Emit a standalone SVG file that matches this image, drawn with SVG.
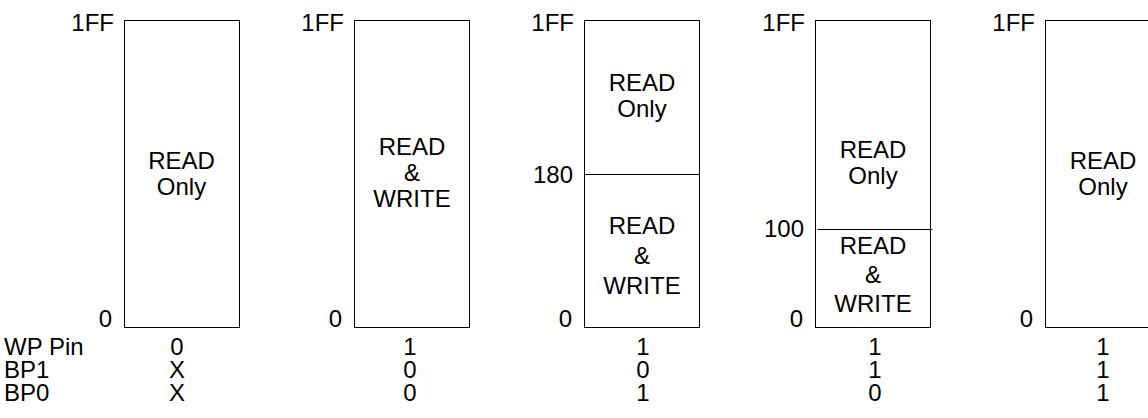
<svg xmlns="http://www.w3.org/2000/svg" width="1148" height="418" viewBox="0 0 1148 418">
<style>
text{font-family:"Liberation Sans",Arial,sans-serif;font-size:24px;fill:#000}
.box{fill:#fff;stroke:#000;stroke-width:1}
.div{stroke:#000;stroke-width:1}
.m{text-anchor:middle}
.e{text-anchor:end}
</style>
<rect width="1148" height="418" fill="#fff"/>
<g id="row-labels">
<text x="4" y="355">WP Pin</text>
<text x="4" y="378">BP1</text>
<text x="4" y="401">BP0</text>
</g>
<g id="map1">
<rect class="box" x="124.5" y="20.5" width="115" height="307"/>
<text class="e" x="114" y="31">1FF</text>
<text class="e" x="112" y="327">0</text>
<text class="m" x="181.5" y="169">READ</text>
<text class="m" x="181.5" y="195">Only</text>
<text class="m" x="177" y="355">0</text>
<text class="m" x="177" y="378">X</text>
<text class="m" x="177" y="401">X</text>
</g>
<g id="map2">
<rect class="box" x="354.5" y="20.5" width="115" height="307"/>
<text class="e" x="344" y="31">1FF</text>
<text class="e" x="342" y="327">0</text>
<text class="m" x="412" y="155">READ</text>
<text class="m" x="412" y="181">&amp;</text>
<text class="m" x="412" y="207">WRITE</text>
<text class="m" x="410" y="355">1</text>
<text class="m" x="410" y="378">0</text>
<text class="m" x="410" y="401">0</text>
</g>
<g id="map3">
<rect class="box" x="584.5" y="20.5" width="115" height="307"/>
<line class="div" x1="584.5" y1="174.5" x2="699.5" y2="174.5"/>
<text class="e" x="574" y="31">1FF</text>
<text class="e" x="573" y="183">180</text>
<text class="e" x="572" y="327">0</text>
<text class="m" x="642" y="91">READ</text>
<text class="m" x="642" y="117">Only</text>
<text class="m" x="642" y="234">READ</text>
<text class="m" x="642" y="264">&amp;</text>
<text class="m" x="642" y="294">WRITE</text>
<text class="m" x="643" y="355">1</text>
<text class="m" x="643" y="378">0</text>
<text class="m" x="643" y="401">1</text>
</g>
<g id="map4">
<rect class="box" x="815.5" y="20.5" width="115" height="307"/>
<line class="div" x1="817.5" y1="229.5" x2="932.5" y2="229.5"/>
<text class="e" x="805" y="31">1FF</text>
<text class="e" x="804" y="237">100</text>
<text class="e" x="803" y="327">0</text>
<text class="m" x="873" y="158">READ</text>
<text class="m" x="873" y="184">Only</text>
<text class="m" x="873" y="254">READ</text>
<text class="m" x="873" y="283">&amp;</text>
<text class="m" x="873" y="312">WRITE</text>
<text class="m" x="875" y="355">1</text>
<text class="m" x="875" y="378">1</text>
<text class="m" x="875" y="401">0</text>
</g>
<g id="map5">
<rect class="box" x="1045.5" y="20.5" width="115" height="307"/>
<text class="e" x="1035" y="31">1FF</text>
<text class="e" x="1033" y="327">0</text>
<text class="m" x="1103" y="169">READ</text>
<text class="m" x="1103" y="195">Only</text>
<text class="m" x="1103" y="355">1</text>
<text class="m" x="1103" y="378">1</text>
<text class="m" x="1103" y="401">1</text>
</g>
<g id="connectors"></g>
</svg>
